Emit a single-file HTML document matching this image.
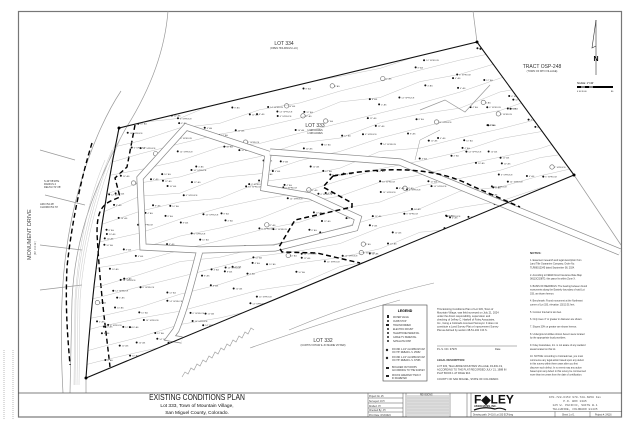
<!DOCTYPE html>
<html><head><meta charset="utf-8"><style>
html,body{margin:0;padding:0;background:#fff}
svg{display:block;font-family:"Liberation Sans",sans-serif}
</style></head><body>
<svg id="s" width="640" height="427" viewBox="0 0 640 427" xmlns="http://www.w3.org/2000/svg">
<defs>
<clipPath id="lot"><path d="M119,128 L477,42 L574,175 L86,378 Q94,250 119,128 Z"/></clipPath>
</defs>
<rect width="640" height="427" fill="#fff"/>
<rect x="18.5" y="11.5" width="603" height="405.5" fill="none" stroke="#777" stroke-width="1.2"/>
<line x1="4" y1="350" x2="4" y2="420" stroke="#bbb" stroke-width="1" stroke-dasharray="1 1"/>
<line x1="13" y1="350" x2="13" y2="420" stroke="#bbb" stroke-width="1" stroke-dasharray="1 1"/>

<!-- road lines -->
<g fill="none" stroke="#999" stroke-width="0.7">
<path d="M168,11 C165,50 150,90 126,128 C100,175 75,230 72,300 L70,393"/>
<path d="M121,91 C105,115 90,150 80,185 C64,240 58,300 63,393"/>
<path d="M119,128 Q94,250 86,378 L86,393"/>
<path d="M473,11 L477,42"/>
<path d="M574,175 L621,245"/>
<path d="M40,150 L75,160 M45,195 L85,205 M40,245 L82,250 M40,290 L82,285"/>
</g>
<g fill="none" stroke="#bbb" stroke-width="0.4">
<path d="M122,135 C102,180 84,240 80,300 L79,385"/>
<path d="M117,140 C98,185 82,240 78,300 L77,385"/>
<path d="M112,150 C95,190 80,240 76,300 L75,385"/>
<path d="M105,160 C90,195 79,240 75,300 L74,385"/>
</g>
<g fill="none" stroke="#000" stroke-width="1.4" stroke-dasharray="5 3">
<path d="M92,143 C82,175 72,220 67,267 C65,310 68,340 70,365"/>
<path d="M135,125 L127,167 L115,178 L120,197 L113,200 C100,205 97,215 97,233 C100,290 106,330 110,367"/>
</g>
<text x="0" y="0" transform="translate(31,260) rotate(-90)" font-size="5.5" fill="#444">MONUMENT DRIVE</text>
<text x="0" y="0" transform="translate(36,255) rotate(-90)" font-size="2.5" fill="#666">(60' R.O.W.)</text>
<g font-size="2.6" fill="#333">
<text x="44" y="182">S.44°08'18"E</text><text x="44" y="185">RADIUS 4</text><text x="44" y="188">DELTA=71°28'</text>
<text x="40" y="205">ARC=54.28'</text><text x="40" y="208">CHORD=53.70'</text>
</g>

<!-- contours clipped -->
<g id="cont" clip-path="url(#lot)" fill="none" stroke="#bbb" stroke-width="0.45"></g>
<g id="trees" clip-path="url(#lot)"></g>

<!-- envelope double band -->
<g fill="none">
<path d="M140,178 L186,127 L268,154 L264,188 L310,196 L358,218 L355,228 L275,248 L200,250 L143,247 Z M200,250 C192,280 186,305 176,330 L170,338 L182,340" stroke="#888" stroke-width="7"/>
<path d="M140,178 L186,127 L268,154 L264,188 L310,196 L358,218 L355,228 L275,248 L200,250 L143,247 Z M200,250 C192,280 186,305 176,330 L170,338 L182,340" stroke="#fff" stroke-width="5.6"/>
<path d="M270,152 L400,162 L620,252" stroke="#888" stroke-width="7"/>
<path d="M270,152 L400,162 L620,252" stroke="#fff" stroke-width="5.6"/>
<path d="M420,110 L445,100 L465,112 L490,85" stroke="#999" stroke-width="0.7"/>
<path d="M440,130 L420,140 L415,160" stroke="#999" stroke-width="0.5"/>
</g>

<!-- big dashed -->
<g fill="none" stroke="#000" stroke-width="1.5" stroke-dasharray="5 3">
<path d="M333,176 Q420,160 470,185 L520,207"/>
<path d="M333,176 L323,187 L352,203 L352,207 L295,220 L279,247 L282,252 L317,253 L360,263"/>
</g>

<!-- lot 332 lines -->
<g fill="none" stroke="#999" stroke-width="0.6">
<path d="M289,330 Q360,300 434,283"/>
<path d="M250,348 Q330,320 400,300"/>
<polyline points="182,377 185,372 188,374 191,368 194,370 197,364 200,366 203,360 206,362 209,356 212,358 215,352 218,354 221,348 224,350 227,344 230,346 233,340 236,342 239,336 242,338 245,332 248,334 251,328 254,330"/>
</g>

<!-- lot boundary -->
<path d="M119,128 L477,42 L574,175 L86,378 Q94,250 119,128 Z" fill="none" stroke="#111" stroke-width="1.1"/>
<g fill="#000"><circle cx="119" cy="128" r="1.5"/><circle cx="477" cy="42" r="1.5"/><circle cx="574" cy="175" r="1.5"/><circle cx="86" cy="378" r="1.5"/></g>

<!-- labels -->
<g fill="#333" text-anchor="middle">
<text x="284" y="45" font-size="5">LOT 334</text><text x="284" y="49" font-size="2.5">(OPEN HOLDINGS LLC)</text>
<text x="315" y="127" font-size="5">LOT 333</text><text x="315" y="131" font-size="2.5">1.968 ACRES</text><text x="315" y="134" font-size="2.5">1.968 ACRES</text>
<text x="323" y="342" font-size="5">LOT 332</text><text x="323" y="346" font-size="2.5">(CURTIS VOTAW &amp; JO MARIE VOTAW)</text>
<text x="542" y="68" font-size="5">TRACT OSP-248</text><text x="542" y="72" font-size="2.5">(TOWN OF MTN VILLAGE)</text>
</g>
<g stroke="#333" fill="none" stroke-width="0.6">
<line x1="596" y1="20" x2="596" y2="75"/><path d="M596,20 L592,48 L596,46"/>
</g>
<text x="596" y="61" font-size="7" font-weight="bold" text-anchor="middle">N</text>
<rect x="577" y="86" width="36" height="2" fill="#000"/><rect x="581" y="86.5" width="4" height="1" fill="#fff"/><rect x="589" y="86.5" width="4" height="1" fill="#fff"/>
<text x="577" y="84" font-size="2.5">SCALE: 1"=40'</text>
<text x="577" y="92" font-size="2">0  10 20  40</text><text x="611" y="92" font-size="2">80</text>

<!-- legend -->
<rect x="383" y="305" width="44" height="76" fill="#fff" stroke="#444" stroke-width="0.6"/>
<text x="405" y="312" font-size="3.5" font-weight="bold" text-anchor="middle">LEGEND</text>
<g font-size="2.3" fill="#333">
<text x="393" y="318">WATER VALVE</text><text x="393" y="322">CURB STOP</text><text x="393" y="326">TRANSFORMER</text><text x="393" y="330">ELECTRIC MOUNT</text><text x="393" y="334">TELEPHONE PEDESTAL</text><text x="393" y="338">CABLE TV PEDESTAL</text><text x="393" y="342">SATELLITE DISH</text>
<text x="392" y="350">FOUND 1-1/2" ALUMINUM CAP</text><text x="392" y="353">ON 7/8" REBAR L.S. 25952</text>
<text x="392" y="358">FOUND 1-1/2" ALUMINUM CAP</text><text x="392" y="361">ON 7/8" REBAR L.S. 37966</text>
<text x="392" y="368">BOULDER OUTCROPS</text><text x="392" y="371">ACCORDING TO THE SURVEY</text>
<text x="392" y="376">ROCKS GREATER THAN 3'</text><text x="392" y="379">IN DIAMETER</text>
</g>
<g fill="#222"><rect x="387" y="315" width="2" height="3"/><circle cx="388" cy="321" r="1"/><rect x="386" y="324" width="3" height="2"/><circle cx="388" cy="329" r="1"/><circle cx="388" cy="333" r="1"/><circle cx="388" cy="337" r="1"/><circle cx="388" cy="341" r="1"/><circle cx="387" cy="350" r="1.2"/><circle cx="387" cy="358" r="1.2"/><rect x="386" y="367" width="3" height="2"/><rect x="386" y="375" width="3" height="2"/></g>

<g font-size="2.6" fill="#333">
<text x="437" y="310">This Existing Conditions Plan of Lot 333, Town of</text>
<text x="437" y="313.5">Mountain Village, was field surveyed on July 21, 2024</text>
<text x="437" y="317">under the direct responsibility, supervision and</text>
<text x="437" y="320.5">checking of Jeffrey C. Haskell of Foley Associates,</text>
<text x="437" y="324">Inc., being a Colorado Licensed Surveyor. It does not</text>
<text x="437" y="327.5">constitute a Land Survey Plat or Improvement Survey</text>
<text x="437" y="331">Plat as defined by section 38-51-102 C.R.S.</text>
<line x1="437" y1="346" x2="517" y2="346" stroke="#444" stroke-width="0.4"/>
<text x="437" y="350">P.L.S. NO. 37970</text><text x="495" y="350">Date</text>
<text x="437" y="361" font-weight="bold">LEGAL DESCRIPTION:</text>
<text x="437" y="367">LOT 333, TELLURIDE MOUNTAIN VILLAGE, FILING 19,</text>
<text x="437" y="370.5">ACCORDING TO THE PLAT RECORDED JULY 21, 1988 IN</text>
<text x="437" y="374">PLAT BOOK 1 AT PAGE 916.</text>
<text x="437" y="380">COUNTY OF SAN MIGUEL, STATE OF COLORADO.</text>
</g>
<g font-size="2.4" fill="#333" id="notes">
<text x="530" y="254" font-weight="bold" font-size="3">NOTES:</text>
</g>

<!-- title block -->
<line x1="18" y1="393" x2="622" y2="393" stroke="#555" stroke-width="0.8"/>
<g transform="translate(197,400)" text-anchor="middle">
<text x="0" y="0" font-size="8" transform="scale(0.85,1)" fill="#111">EXISTING CONDITIONS PLAN</text>
<text x="0" y="7" font-size="4.8" fill="#111">Lot 333, Town of Mountain Village,</text>
<text x="0" y="14" font-size="4.8" fill="#111">San Miguel County, Colorado.</text>
</g>
<g stroke="#555" stroke-width="0.5" fill="none">
<line x1="368" y1="393" x2="368" y2="417"/><line x1="403" y1="393" x2="403" y2="417"/><line x1="406" y1="393" x2="406" y2="417"/><line x1="450" y1="393" x2="450" y2="417"/><line x1="467" y1="393" x2="467" y2="417"/><line x1="471" y1="393" x2="471" y2="417"/>
<line x1="368" y1="398" x2="403" y2="398"/><line x1="368" y1="403" x2="403" y2="403"/><line x1="368" y1="408" x2="403" y2="408"/><line x1="368" y1="412" x2="403" y2="412"/>
<line x1="471" y1="411.5" x2="622" y2="411.5"/><line x1="555" y1="411.5" x2="555" y2="417"/><line x1="590" y1="411.5" x2="590" y2="417"/>
</g>
<rect x="407" y="395" width="42" height="21" fill="#ddd"/>
<g stroke="#aaa" stroke-width="0.3">
<line x1="407" y1="398" x2="449" y2="398"/><line x1="407" y1="401" x2="449" y2="401"/><line x1="407" y1="404" x2="449" y2="404"/><line x1="407" y1="407" x2="449" y2="407"/><line x1="407" y1="410" x2="449" y2="410"/><line x1="407" y1="413" x2="449" y2="413"/>
</g>
<g font-size="2.3" fill="#333">
<text x="369" y="397">Project No. 25</text><text x="369" y="402">Surveyed: JCH</text><text x="369" y="407">Drafted: JH</text><text x="369" y="411">Checked By: JH</text><text x="369" y="416">Print Date: 8/13/2024</text>
<text x="420" y="395.5">REVISIONS</text>
<text x="473" y="415.5">Drawing path: 24-116 Lot 333 ECP.dwg</text>
<text x="562" y="415.5">Sheet 1 of 1</text><text x="595" y="415.5">Project #: 24116</text>
</g>
<text x="474" y="403.5" font-size="12" font-weight="bold" fill="#111">F◆LEY</text>
<text x="474" y="407" font-size="2.5" fill="#111" font-weight="bold">ASSOCIATES, INC.</text>
<path d="M474,410 Q485,406 495,409 Q500,407 506,410" stroke="#111" stroke-width="1.2" fill="none"/>
<g font-size="3" fill="#555" text-anchor="middle" font-family="Liberation Mono,monospace">
<text x="575" y="398">970-728-6153   970-728-6050 Fax</text>
<text x="575" y="402">P.O. BOX 1385</text>
<text x="575" y="406">125 W. PACIFIC, SUITE B-1</text>
<text x="575" y="410">TELLURIDE, COLORADO 81435</text>
</g>
</svg>
<script>
(function(){
var NS="http://www.w3.org/2000/svg";
var seed=7;function r(){seed=(seed*16807)%2147483647;return seed/2147483647;}
var c=document.getElementById("cont");
for(var i=0;i<22;i++){
 var y0=60+i*15, p="M60,"+(y0+40);
 for(var x=60;x<=620;x+=40){p+=" L"+x+","+(y0+40-(x-60)*0.25+ (r()*8-4));}
 var e=document.createElementNS(NS,"path");e.setAttribute("d",p);c.appendChild(e);
}
var t=document.getElementById("trees");
var labels=['8" AS','10" AS','6" SPRUCE','12" AS','4" AS','14" SPRUCE'];
function inLot(x,y){var pts=[[119,128],[477,42],[574,175],[86,378],[100,250]];var ins=false;for(var i=0,j=pts.length-1;i<pts.length;j=i++){var xi=pts[i][0],yi=pts[i][1],xj=pts[j][0],yj=pts[j][1];if(((yi>y)!=(yj>y))&&(x<(xj-xi)*(y-yi)/(yj-yi)+xi))ins=!ins;}return ins;}
var n=0;
while(n<220){var x=90+r()*490,y=45+r()*335;if(!inLot(x,y))continue;n++;
 if(r()<0.08){var g=document.createElementNS(NS,"circle");g.setAttribute("cx",x);g.setAttribute("cy",y);g.setAttribute("r",2.2);g.setAttribute("fill","none");g.setAttribute("stroke","#666");g.setAttribute("stroke-width","0.6");t.appendChild(g);}
 else{var d=document.createElementNS(NS,"circle");d.setAttribute("cx",x);d.setAttribute("cy",y);d.setAttribute("r",1);d.setAttribute("fill","#111");t.appendChild(d);}
 var tx=document.createElementNS(NS,"text");tx.setAttribute("x",x+2);tx.setAttribute("y",y+1);tx.setAttribute("font-size","2.2");tx.setAttribute("fill","#444");tx.textContent=labels[Math.floor(r()*labels.length)];t.appendChild(tx);
}
var notes=["1. Easement research and legal description from","Land Title Guarantee Company, Order No.","TLR86012345 dated September 08, 2024.","","2. According to FEMA Flood Insurance Rate Map","08113C0287D, this parcel is within Zone X.","","3. BASIS OF BEARINGS: The bearing between found","monuments along the Easterly boundary of said Lot","333, as shown hereon.","","4. Benchmark: Found monument at the Northeast","corner of Lot 333, elevation 10213.51 feet.","","5. Contour Interval is two feet.","","6. Only trees 4\" or greater in diameter are shown.","","7. Slopes 30% or greater are shown hereon.","","8. Underground utilities shown hereon were located","by the appropriate local providers.","","9. Foley Associates, Inc. is not aware of any wetland","areas located on this lot.","","10. NOTICE: According to Colorado law, you must","commence any legal action based upon any defect","in this survey within three years after you first","discover such defect. In no event may any action","based upon any defect in this survey be commenced","more than ten years from the date of certification."];
var ng=document.getElementById("notes");
for(var k=0;k<notes.length;k++){var e2=document.createElementNS(NS,"text");e2.setAttribute("x",530);e2.setAttribute("y",261+k*3.7);e2.textContent=notes[k];ng.appendChild(e2);}
})();
</script>
</body></html>
